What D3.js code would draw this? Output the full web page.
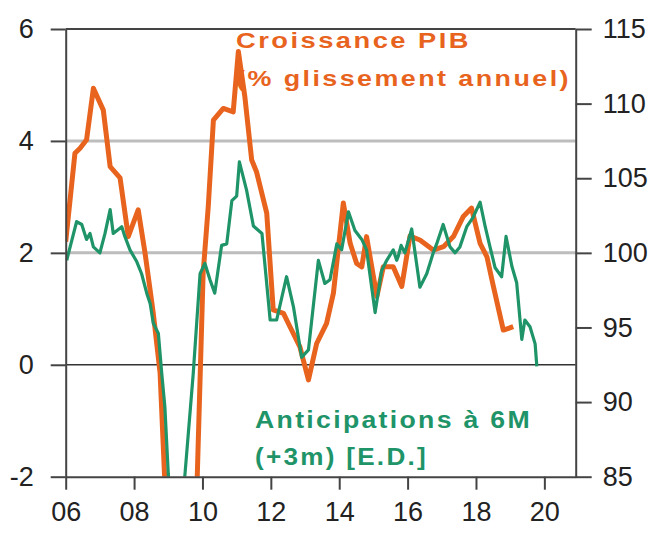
<!DOCTYPE html>
<html>
<head>
<meta charset="utf-8">
<script src="https://cdn.jsdelivr.net/npm/d3@7"></script>
<style>
  html, body { margin: 0; padding: 0; background: #fff; }
  svg { display: block; }
  .tick text { font-family: "Liberation Sans", Arial, sans-serif; font-size: 27px; fill: #222; }
  .note { font-family: "Liberation Sans", Arial, sans-serif; font-weight: bold; letter-spacing: 2px; }
</style>
</head>
<body>
<svg id="chart" width="655" height="541"></svg>
<script>
// ---- Data ----
const gdpYears = [2006.00, 2006.27, 2006.42, 2006.61, 2006.81, 2007.10, 2007.30, 2007.59, 2007.83, 2008.12,
  2008.32, 2008.56, 2008.76, 2009.00, 2009.25, 2009.55, 2009.80, 2010.02, 2010.17, 2010.32,
  2010.61, 2010.90, 2011.05, 2011.24, 2011.44, 2011.58, 2011.88, 2012.07, 2012.37, 2012.56,
  2012.85, 2013.10, 2013.34, 2013.63, 2013.83, 2014.12, 2014.32, 2014.51, 2014.66, 2014.80,
  2015.10, 2015.29, 2015.58, 2015.83, 2016.07, 2016.36, 2016.75, 2017.05, 2017.34, 2017.63,
  2017.87, 2018.12, 2018.32, 2018.51, 2018.80, 2019.09];
const gdpValues = [2.2, 3.78, 3.87, 4.02, 4.94, 4.55, 3.54, 3.34, 2.29, 2.77,
  2.0, 0.93, -0.14, -3.5, -5.5, -4.6, -3.0, 1.64, 2.83, 4.37,
  4.58, 4.52, 5.6, 4.79, 3.66, 3.45, 2.71, 0.98, 0.92, 0.68,
  0.32, -0.27, 0.38, 0.74, 1.28, 2.89, 2.17, 1.81, 1.75, 2.29,
  1.22, 1.75, 1.75, 1.4, 2.3, 2.23, 2.05, 2.11, 2.29, 2.65,
  2.8, 2.17, 1.93, 1.4, 0.62, 0.68];

const antYears = [2006.03, 2006.13, 2006.32, 2006.47, 2006.61, 2006.71, 2006.81, 2007.00, 2007.15, 2007.30,
  2007.39, 2007.64, 2007.73, 2007.88, 2008.08, 2008.22, 2008.37, 2008.47, 2008.56, 2008.71,
  2008.81, 2008.90, 2009.00, 2009.08, 2009.25, 2009.42, 2009.49, 2009.73, 2009.93, 2010.07,
  2010.22, 2010.36, 2010.56, 2010.71, 2010.86, 2011.00, 2011.08, 2011.29, 2011.49, 2011.74,
  2011.98, 2012.17, 2012.46, 2012.66, 2012.90, 2013.10, 2013.39, 2013.58, 2013.73, 2013.93,
  2014.07, 2014.27, 2014.46, 2014.66, 2014.80, 2015.05, 2015.24, 2015.39, 2015.58, 2015.68,
  2015.73, 2015.81, 2015.92, 2016.12, 2016.36, 2016.56, 2016.75, 2016.85, 2017.04, 2017.24,
  2017.39, 2017.53, 2017.73, 2017.92, 2018.12, 2018.27, 2018.41, 2018.56, 2018.75, 2018.88,
  2019.05, 2019.19, 2019.34, 2019.43, 2019.58, 2019.73, 2019.78];
const antValues = [99.5, 100.4, 102.1, 101.9, 100.9, 101.3, 100.4, 100.0, 101.3, 102.9,
  101.3, 101.75, 101.1, 100.2, 99.4, 98.6, 97.3, 96.6, 95.3, 94.6,
  91.9, 89.7, 85.2, 83.0, 81.5, 83.5, 85.2, 91.9, 98.6, 99.3,
  98.2, 97.3, 100.5, 100.6, 103.5, 103.8, 106.1, 104.2, 101.8, 101.3,
  95.5, 95.5, 98.4, 96.4, 93.0, 93.5, 99.5, 97.95, 98.2, 100.6,
  100.2, 102.75, 101.5, 100.9, 100.2, 96.0, 98.8, 99.5, 100.2, 99.5,
  99.8, 100.5, 100.0, 101.6, 97.7, 98.6, 100.0, 100.6, 101.9, 100.4,
  100.0, 100.4, 101.75, 102.4, 103.4, 101.75, 100.4, 99.0, 98.4, 101.1,
  99.1, 98.0, 94.2, 95.5, 95.05, 93.9, 92.4];

const leftTicks = [-2, 0, 2, 4, 6];
const rightTicks = [85, 90, 95, 100, 105, 110, 115];
const xTicks = [2006, 2008, 2010, 2012, 2014, 2016, 2018, 2020];
const xTickLabels = ["06", "08", "10", "12", "14", "16", "18", "20"];
const gridValues = [2, 4];

const gdpLabel = ["Croissance PIB", "(% glissement annuel)"];
const antLabel = ["Anticipations à 6M", "(+3m) [E.D.]"];

// ---- Layout ----
const ORANGE = "#E8641E";
const GREEN = "#1E9468";
const AXIS = "#444";
const plotL = 65.7, plotR = 575.7, plotT = 29, plotB = 476.7;

const svg = d3.select("#chart");

const x = d3.scaleLinear().domain([2006, 2006 + (plotR - plotL) / 34.19]).range([plotL, plotR]);
const yL = d3.scaleLinear().domain([-2, 6]).range([plotB, plotT]);
const yR = d3.scaleLinear().domain([85, 115]).range([plotB, plotT]);

// gridlines
svg.append("g").selectAll("line").data(gridValues).join("line")
  .attr("x1", plotL).attr("x2", plotR)
  .attr("y1", d => yL(d)).attr("y2", d => yL(d))
  .attr("stroke", "#bdbdbd").attr("stroke-width", 3);

// zero line
svg.append("line")
  .attr("x1", plotL).attr("x2", plotR).attr("y1", yL(0)).attr("y2", yL(0))
  .attr("stroke", "#333").attr("stroke-width", 1.6);

// top frame line
svg.append("line")
  .attr("x1", plotL).attr("x2", plotR).attr("y1", yL(6)).attr("y2", yL(6))
  .attr("stroke", AXIS).attr("stroke-width", 2);

// annotations (drawn under the lines, as in the reference)
svg.append("text").attr("class", "note").attr("x", 236).attr("y", 48)
  .attr("font-size", 22).attr("fill", ORANGE)
  .attr("textLength", 235).attr("lengthAdjust", "spacingAndGlyphs").text(gdpLabel[0]);
svg.append("text").attr("class", "note").attr("x", 236).attr("y", 86)
  .attr("font-size", 22).attr("fill", ORANGE)
  .attr("textLength", 335).attr("lengthAdjust", "spacingAndGlyphs").text(gdpLabel[1]);
svg.append("text").attr("class", "note").attr("x", 255).attr("y", 428)
  .attr("font-size", 23).attr("fill", GREEN)
  .attr("textLength", 277).attr("lengthAdjust", "spacingAndGlyphs").text(antLabel[0]);
svg.append("text").attr("class", "note").attr("x", 255).attr("y", 465)
  .attr("font-size", 23).attr("fill", GREEN)
  .attr("textLength", 173).attr("lengthAdjust", "spacingAndGlyphs").text(antLabel[1]);

// clip
svg.append("clipPath").attr("id", "plotclip").append("rect")
  .attr("x", plotL).attr("y", plotT).attr("width", plotR - plotL).attr("height", plotB - plotT);

const gdpData = gdpYears.map((t, i) => [t, gdpValues[i]]);
const antData = antYears.map((t, i) => [t, antValues[i]]);

const gLines = svg.append("g").attr("clip-path", "url(#plotclip)");
gLines.append("path").datum(gdpData)
  .attr("fill", "none").attr("stroke", ORANGE).attr("stroke-width", 5)
  .attr("stroke-linejoin", "round")
  .attr("d", d3.line().x(d => x(d[0])).y(d => yL(d[1])));
gLines.append("path").datum(antData)
  .attr("fill", "none").attr("stroke", GREEN).attr("stroke-width", 3.2)
  .attr("stroke-linejoin", "round")
  .attr("d", d3.line().x(d => x(d[0])).y(d => yR(d[1])));

// axes
function styleAxis(g) {
  g.selectAll(".domain").attr("stroke", AXIS).attr("stroke-width", 2);
  g.selectAll(".tick line").attr("stroke", AXIS).attr("stroke-width", 2);
  g.selectAll(".tick text").attr("font-family", null).attr("font-size", null);
}
const axL = svg.append("g").attr("transform", `translate(${plotL},0)`)
  .call(d3.axisLeft(yL).tickValues(leftTicks).tickSize(15).tickSizeOuter(0).tickPadding(17)
    .tickFormat(d => String(d)));
styleAxis(axL);

const axR = svg.append("g").attr("transform", `translate(${plotR},0)`)
  .call(d3.axisRight(yR).tickValues(rightTicks).tickSize(16).tickSizeOuter(0).tickPadding(11));
styleAxis(axR);

const axB = svg.append("g").attr("transform", `translate(0,${plotB})`)
  .call(d3.axisBottom(x).tickValues(xTicks).tickSize(13).tickSizeOuter(0).tickPadding(12)
    .tickFormat((d, i) => xTickLabels[i]));
styleAxis(axB);
</script>
</body>
</html>
